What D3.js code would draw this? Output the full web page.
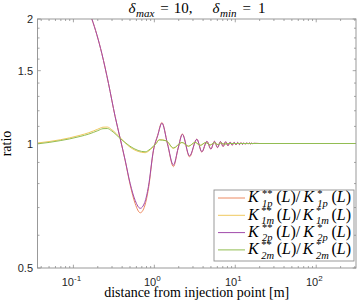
<!DOCTYPE html>
<html>
<head>
<meta charset="utf-8">
<script src="https://cdn.jsdelivr.net/npm/d3@7"></script>
<style>
  body { margin: 0; background: #fff; }
  svg { display: block; }
</style>
</head>
<body>
<script>
var width = 360;
var height = 307;

// data
var pX = [0.036, 0.06, 0.1, 0.13, 0.169, 0.2245, 0.271, 0.328, 0.378, 0.4355, 0.502, 0.58, 0.67, 0.76, 0.845, 0.975, 1.1, 1.24, 1.45, 1.72, 1.97, 2.22, 2.72, 3.35, 3.86, 4.46, 5.0, 5.52, 6.04, 6.56, 7.08, 7.6, 8.12, 8.64, 9.16, 9.68, 10.2, 10.72, 11.24, 11.76, 12.28, 12.8, 13.32, 13.84, 14.36, 14.88, 15.4, 15.92, 16.44, 17.0, 20, 50, 310];
var k1pY = [4.0, 3.2, 2.55, 2.25, 2.0, 1.65, 1.398, 1.161, 1.029, 0.91, 0.795, 0.715, 0.68, 0.706, 0.777, 0.962, 1.047, 1.124, 1.0, 0.879, 0.975, 1.055, 0.928, 1.025, 0.953, 1.012, 0.969, 1.012, 0.977, 1.011, 0.983, 1.01, 0.987, 1.008, 0.99, 1.007, 0.992, 1.006, 0.994, 1.005, 0.995, 1.004, 0.996, 1.004, 0.997, 1.003, 0.998, 1.002, 0.999, 1.001, 1.0, 1.0, 1.0];
var k2pY = [4.0, 3.2, 2.55, 2.25, 2.0, 1.65, 1.398, 1.161, 1.029, 0.912, 0.801, 0.728, 0.697, 0.72, 0.787, 0.964, 1.045, 1.12, 1.0, 0.887, 0.975, 1.052, 0.933, 1.024, 0.955, 1.012, 0.97, 1.012, 0.978, 1.011, 0.984, 1.01, 0.988, 1.008, 0.991, 1.007, 0.993, 1.006, 0.994, 1.005, 0.995, 1.004, 0.996, 1.004, 0.997, 1.003, 0.998, 1.002, 0.999, 1.001, 1.0, 1.0, 1.0];

var mX = [0.036, 0.05, 0.0686, 0.09, 0.121, 0.155, 0.2, 0.232, 0.262, 0.298, 0.378, 0.5, 0.63, 0.77, 0.89, 1.05, 1.15, 1.4, 1.72, 2.19, 2.64, 3.19, 3.7, 4.3, 4.9, 5.5, 6.1, 6.7, 7.3, 8, 10, 20, 310];
var k1mY = [1.003, 1.011, 1.021, 1.032, 1.047, 1.062, 1.083, 1.095, 1.096, 1.08, 1.033, 0.98, 0.957, 0.95, 0.966, 1.0, 1.022, 1.016, 0.973, 1.006, 0.985, 1.006, 0.99, 1.005, 0.992, 1.004, 0.994, 1.003, 0.996, 1.0, 1.0, 1.0, 1.0];
var k2mY = [0.998, 1.006, 1.016, 1.026, 1.04, 1.054, 1.074, 1.086, 1.087, 1.072, 1.029, 0.985, 0.962, 0.955, 0.97, 1.0, 1.02, 1.015, 0.976, 1.006, 0.985, 1.006, 0.99, 1.005, 0.992, 1.004, 0.994, 1.003, 0.996, 1.0, 1.0, 1.0, 1.0];

var seriesNames = ["1p", "1m", "2p", "2m"];
var seriesColors = ["#ec8a62", "#efc85e", "#a04aaa", "#92bd52"];

var xMajor = [0.1, 1, 10, 100];
var xMajorExp = ["-1", "0", "1", "2"];
var yMajor = [0.5, 1, 1.5, 2];
var yMajorLabels = ["0.5", "1", "1.5", "2"];
var yMinor = [0.6, 0.7, 0.8, 0.9, 1.1, 1.2, 1.3, 1.4, 1.6, 1.7, 1.8, 1.9];

var pl = 37.5, pr = 356, pt = 19, pb = 268;
var axis_color = "#8f8f8f";
var tick_color = "#262626";

var svg = d3.select("body")
    .append("svg")
    .attr("width", width)
    .attr("height", height);

var x = d3.scaleLog().domain([0.036, 310]).range([pl, pr]);
var y = d3.scaleLog().domain([0.5, 2]).range([pb, pt]);

svg.append("clipPath").attr("id", "clip")
    .append("rect")
    .attr("x", pl).attr("y", pt)
    .attr("width", pr - pl).attr("height", pb - pt);

// minor x ticks
var xMinor = [];
[0.01, 0.1, 1, 10, 100].forEach(function(d) {
    for (var k = 2; k <= 9; k++) {
        var v = d * k;
        if (v > 0.036 && v < 310) xMinor.push(v);
    }
});

function xTickLines(vals, len) {
    var g = svg.append("g").attr("stroke", axis_color).attr("stroke-width", 0.8);
    vals.forEach(function(v) {
        var px = x(v);
        g.append("line").attr("x1", px).attr("x2", px).attr("y1", pb).attr("y2", pb - len);
        g.append("line").attr("x1", px).attr("x2", px).attr("y1", pt).attr("y2", pt + len);
    });
}
function yTickLines(vals, len) {
    var g = svg.append("g").attr("stroke", axis_color).attr("stroke-width", 0.8);
    vals.forEach(function(v) {
        var py = y(v);
        g.append("line").attr("x1", pl).attr("x2", pl + len).attr("y1", py).attr("y2", py);
        g.append("line").attr("x1", pr).attr("x2", pr - len).attr("y1", py).attr("y2", py);
    });
}
xTickLines(xMinor, 2);
xTickLines(xMajor, 3.3);
yTickLines(yMinor, 2);
yTickLines(yMajor, 3.3);

// curves
var line = d3.line()
    .x(function(d) { return x(d[0]); })
    .y(function(d) { return y(d[1]); })
    .curve(d3.curveMonotoneX);

var series = [
    { xs: pX, ys: k1pY },
    { xs: mX, ys: k1mY },
    { xs: pX, ys: k2pY },
    { xs: mX, ys: k2mY }
];

svg.append("g").attr("clip-path", "url(#clip)")
    .selectAll("path")
    .data(series)
    .enter()
    .append("path")
    .attr("d", function(s) { return line(s.xs.map(function(v, i) { return [v, s.ys[i]]; })); })
    .attr("fill", "none")
    .attr("stroke", function(s, i) { return seriesColors[i]; })
    .attr("stroke-width", 1);

// frame
svg.append("rect")
    .attr("x", pl).attr("y", pt)
    .attr("width", pr - pl).attr("height", pb - pt)
    .attr("fill", "none")
    .attr("stroke", axis_color)
    .attr("stroke-width", 0.9);

// tick labels
var sans = "'Liberation Sans', Arial, sans-serif";
var serif = "'Liberation Serif', 'Times New Roman', serif";

xMajor.forEach(function(v, i) {
    var t = svg.append("text")
        .attr("x", x(v) - 2)
        .attr("y", 286)
        .attr("font-family", sans)
        .attr("font-size", "11px")
        .attr("fill", tick_color)
        .attr("text-anchor", "middle");
    t.append("tspan").text("10");
    t.append("tspan").attr("dy", -5).attr("font-size", "8px").text(xMajorExp[i]);
});

yMajor.forEach(function(v, i) {
    svg.append("text")
        .attr("x", 33)
        .attr("y", y(v) + 4)
        .attr("font-family", sans)
        .attr("font-size", "11px")
        .attr("fill", tick_color)
        .attr("text-anchor", "end")
        .text(yMajorLabels[i]);
});

// axis labels
svg.append("text")
    .attr("x", (pl + pr) / 2)
    .attr("y", 297)
    .attr("font-family", serif)
    .attr("font-size", "14px")
    .attr("fill", "#000")
    .attr("text-anchor", "middle")
    .text("distance from injection point [m]");

svg.append("text")
    .attr("transform", "translate(10.5," + y(1) + ") rotate(-90)")
    .attr("font-family", serif)
    .attr("font-size", "14px")
    .attr("fill", "#000")
    .attr("text-anchor", "middle")
    .text("ratio");

// math-ish text builder
// piece: {runs: [[text, italic], ...]} or {sup, sub}; gap after piece; flex = gets spare width
function mathText(g, x0, base, pieces, size, ssize, target) {
    var cx = 0;
    var groups = [];
    pieces.forEach(function(p) {
        var pg = g.append("g");
        var w = 0;
        if (p.runs) {
            var t = pg.append("text").attr("x", 0).attr("y", base)
                .attr("font-family", serif).attr("font-size", size + "px")
                .style("white-space", "pre");
            p.runs.forEach(function(r) {
                t.append("tspan").attr("font-style", r[1] ? "italic" : "normal").text(r[0]);
            });
            w = t.node().getComputedTextLength();
        } else {
            if (p.sup) {
                var a = pg.append("text").attr("x", 0).attr("y", base - size * 0.36)
                    .attr("font-family", serif).attr("font-size", ssize + "px")
                    .text(p.sup);
                w = Math.max(w, a.node().getComputedTextLength());
            }
            if (p.sub) {
                var b = pg.append("text").attr("x", 0).attr("y", base + size * 0.28)
                    .attr("font-family", serif).attr("font-size", ssize + "px")
                    .attr("font-style", "italic")
                    .text(p.sub);
                w = Math.max(w, b.node().getComputedTextLength());
            }
        }
        groups.push({ g: pg, x: cx, flex: p.flex });
        cx += w + (p.gap || 0);
    });
    var nflex = groups.filter(function(d) { return d.flex; }).length;
    var extra = target && nflex ? Math.max(0, (target - cx) / nflex) : 0;
    var shift = 0;
    groups.forEach(function(d) {
        d.g.attr("transform", "translate(" + (x0 + d.x + shift) + ",0)");
        if (d.flex) shift += extra;
    });
    return cx + shift;
}

// title
var tg = svg.append("g");
var tw = mathText(tg, 0, 12.5, [
    { runs: [["δ", true]], gap: 0.5 },
    { sub: "max", gap: 6 },
    { runs: [["=", false]], gap: 5 },
    { runs: [["10,", false]], gap: 20 },
    { runs: [["δ", true]], gap: 0.5 },
    { sub: "min", gap: 6 },
    { runs: [["=", false]], gap: 7 },
    { runs: [["1", false]] }
], 15, 11);
tg.attr("transform", "translate(" + (197 - tw / 2) + ",0)");

// legend
var lg = svg.append("g");
lg.append("rect")
    .attr("x", 214).attr("y", 190)
    .attr("width", 140).attr("height", 71)
    .attr("fill", "#fff")
    .attr("stroke", axis_color)
    .attr("stroke-width", 0.9);

seriesNames.forEach(function(nm, i) {
    var ly = 198 + i * 17.3;
    lg.append("line")
        .attr("x1", 218).attr("x2", 245)
        .attr("y1", ly).attr("y2", ly)
        .attr("stroke", seriesColors[i])
        .attr("stroke-width", 1);
    mathText(lg.append("g"), 248, ly + 4.3, [
        { runs: [["K", true]], gap: 0.8, flex: true },
        { sup: "**", sub: nm, gap: 1, flex: true },
        { runs: [["(", false], ["L", true], [")/", false]], gap: 0.3, flex: true },
        { runs: [["K", true]], gap: 0.8, flex: true },
        { sup: "*", sub: nm, gap: 1, flex: true },
        { runs: [["(", false], ["L", true], [")", false]] }
    ], 16, 10.5, 103);
});
</script>
</body>
</html>
